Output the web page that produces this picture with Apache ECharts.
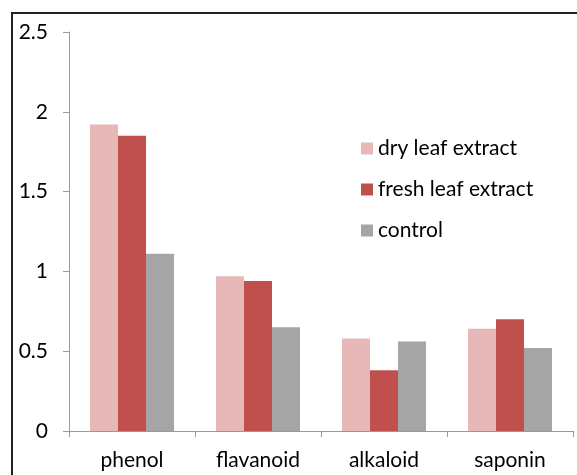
<!DOCTYPE html>
<html>
<head>
<meta charset="utf-8">
<script src="https://cdn.jsdelivr.net/npm/echarts@6/dist/echarts.min.js"></script>
<style>
  html, body { margin: 0; padding: 0; background: #fff; }
  #chart { width: 577px; height: 475px; }
</style>
</head>
<body>
<div id="chart"></div>
<script>
const categories = ['phenol', 'flavanoid', 'alkaloid', 'saponin']
const dryLeaf = [1.92, 0.97, 0.58, 0.64]
const freshLeaf = [1.85, 0.94, 0.38, 0.70]
const control = [1.11, 0.65, 0.56, 0.52]
const yTicks = [0, 0.5, 1, 1.5, 2, 2.5]

const font = 'Lato, "Open Sans", sans-serif'
const chart = echarts.init(document.getElementById('chart'))

const bar = (name, data, color) => ({
  name,
  type: 'bar',
  data,
  barGap: 0,
  barCategoryGap: '33.3%',
  itemStyle: { color }
})

chart.setOption({
  animation: false,
  color: ['#e6b9b8', '#c0504d', '#a5a5a5'],
  grid: { left: 69, right: 4, top: 32, bottom: 44, containLabel: false },
  graphic: [{
    type: 'rect',
    shape: { x: 12, y: 13, width: 620, height: 520 },
    style: { fill: null, stroke: '#222', lineWidth: 2 },
    silent: true
  }],
  legend: {
    orient: 'vertical',
    left: 356,
    top: 133,
    itemWidth: 12,
    itemHeight: 12,
    itemGap: 20,
    icon: 'rect',
    textStyle: { fontFamily: font, fontSize: 21, color: '#000' }
  },
  xAxis: {
    type: 'category',
    data: categories,
    axisLine: { lineStyle: { color: '#999', width: 1 } },
    axisTick: { show: true, length: 6, lineStyle: { color: '#999' } },
    axisLabel: { fontFamily: font, fontSize: 21, color: '#000', margin: 19 }
  },
  yAxis: {
    type: 'value',
    min: yTicks[0],
    max: yTicks[yTicks.length - 1],
    interval: 0.5,
    axisLine: { show: true, lineStyle: { color: '#999' } },
    axisTick: { show: true, length: 6, lineStyle: { color: '#999' } },
    splitLine: { show: false },
    axisLabel: { fontFamily: font, fontSize: 21, color: '#000', margin: 21 }
  },
  series: [
    bar('dry leaf extract', dryLeaf, '#e6b9b8'),
    bar('fresh leaf extract', freshLeaf, '#c0504d'),
    bar('control', control, '#a5a5a5')
  ]
})
</script>
</body>
</html>
